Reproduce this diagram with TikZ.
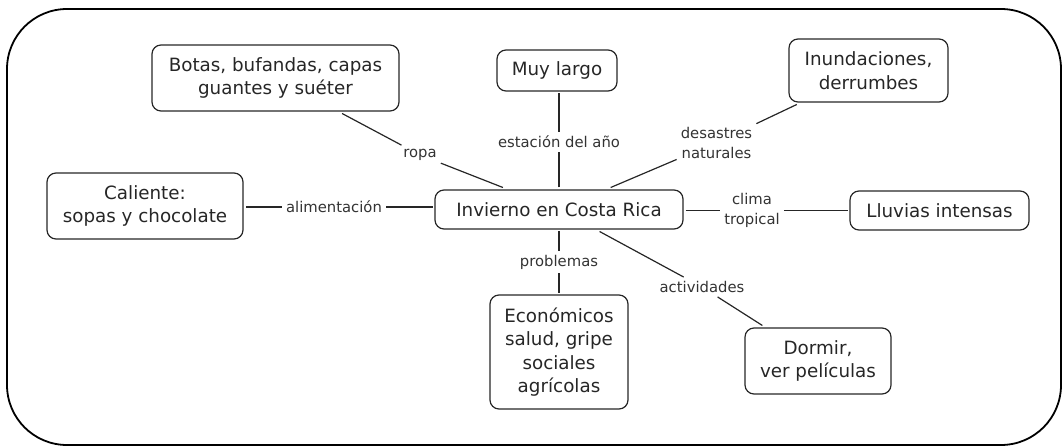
\documentclass[tikz,border=0pt]{standalone}
\usepackage{fontspec}
\setmainfont{DejaVu Sans}
\begin{document}
\begin{tikzpicture}[x=1pt,y=-1pt,
  concept/.style={draw=black!85, line width=1.2pt, rounded corners=9pt, align=center,
    font=\fontsize{18.3}{23.5}\selectfont, text=black!85, inner sep=0pt, outer sep=2.5pt},
  link/.style={align=center, font=\fontsize{14.8}{20}\selectfont, text=black!80, inner sep=4pt},
  conn/.style={draw=black!85, line width=1.2pt}]
\useasboundingbox (0,0) rectangle (1062,446);
\draw[line width=1.8pt, rounded corners=60pt] (7,9) rectangle (1061,445);

\node[concept, minimum width=247pt, minimum height=66pt] (botas) at (275.5,78) {Botas, bufandas, capas\\guantes y suéter};
\node[concept, minimum width=120pt, minimum height=41pt] (muy) at (557,70.5) {Muy largo};
\node[concept, minimum width=159pt, minimum height=63pt] (inund) at (868.5,70.5) {Inundaciones,\\derrumbes};
\node[concept, minimum width=196pt, minimum height=66pt] (cal) at (145,206) {Caliente:\\sopas y chocolate};
\node[concept, minimum width=248pt, minimum height=39pt] (inv) at (559,209.5) {Invierno en Costa Rica};
\node[concept, minimum width=179pt, minimum height=39pt] (lluv) at (939.5,210.5) {Lluvias intensas};
\node[concept, minimum width=138pt, minimum height=114pt] (econ) at (559,352) {Económicos\\salud, gripe\\sociales\\agrícolas};
\node[concept, minimum width=146pt, minimum height=66pt] (dorm) at (818,361) {Dormir,\\ver películas};

\node[link] (ropa) at (420,155) {ropa};
\node[link] (est) at (559,142) {estación del año};
\node[link] (des) at (716.5,142.5) {desastres\\naturales};
\node[link] (alim) at (334,207) {alimentación};
\node[link] (clima) at (752,210.5) {clima\\tropical};
\node[link] (prob) at (559,262) {problemas};
\node[link] (act) at (702,287) {actividades};

\draw[conn] (inv) -- (ropa);
\draw[conn] (ropa) -- (botas);
\draw[conn] (inv.north -| est) -- (est);
\draw[conn] (est) -- (est |- muy.south);
\draw[conn] (inv) -- (des);
\draw[conn] (des) -- (inund);
\draw[conn] (inv.west |- alim) -- (alim);
\draw[conn] (alim) -- (cal.east |- alim);
\draw[conn] (inv.east |- clima) -- (clima);
\draw[conn] (clima) -- (lluv.west |- clima);
\draw[conn] (inv.south -| prob) -- (prob);
\draw[conn] (prob) -- (prob |- econ.north);
\draw[conn] (inv) -- (act);
\draw[conn] (act) -- (dorm);
\end{tikzpicture}
\end{document}
